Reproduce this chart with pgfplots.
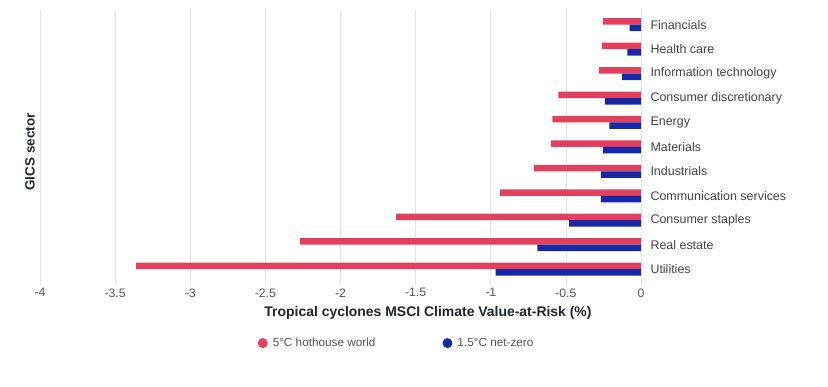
\documentclass[border=0pt]{standalone}
\usepackage{pgfplots}
\pgfplotsset{compat=1.18}
\usepackage{fontspec}
\setmainfont{Liberation Sans}
\definecolor{hot}{HTML}{E2405F}
\definecolor{nz}{HTML}{1428A8}
\definecolor{tickgray}{HTML}{555555}
\definecolor{labeldark}{HTML}{1F2430}
\begin{document}
\begin{tikzpicture}
\path[use as bounding box] (0,0) rectangle (828bp,-387bp);
\begin{axis}[
  at={(40bp,-285bp)}, anchor=south west,
  scale only axis, width=601bp, height=275bp,
  xmin=-4, xmax=0, ymin=-0.6, ymax=10.65,
  y dir=reverse,
  xtick={-4,-3.5,-3,-2.5,-2,-1.5,-1,-0.5,0},
  xticklabels={-4,-3.5,-3,-2.5,-2,-1.5,-1,-0.5,0},
  ytick={0,...,10},
  yticklabels={Financials,Health care,Information technology,Consumer discretionary,Energy,Materials,Industrials,Communication services,Consumer staples,Real estate,Utilities},
  yticklabel pos=right,
  major tick length=0pt,
  axis line style={draw=none},
  xmajorgrids, major grid style={draw=black!10, line width=0.6pt},
  xticklabel style={font=\fontsize{12.3}{14}\selectfont, text=tickgray},
  yticklabel style={font=\fontsize{12.5}{14}\selectfont, text=tickgray!80!black, anchor=west, xshift=6bp},
  legend columns=2,
  legend style={draw=none, fill=none, at={(axis description cs:0.362,-0.211)}, anchor=west,
    font=\fontsize{11.8}{13}\selectfont, text=tickgray, inner sep=0pt,
    nodes={anchor=base west},
    /tikz/every even column/.append style={column sep=65bp}},
  legend image code/.code={\path (0bp,0bp) -- (13bp,0bp); \fill (5bp,0.35em) circle (5bp);},
  legend cell align=left,
]
\addplot[xbar, bar width=6.5bp, bar shift=3.25bp, fill=hot, draw=none] coordinates {
(-0.254,0) (-0.26,1) (-0.28,2) (-0.55,3) (-0.59,4) (-0.60,5) (-0.713,6) (-0.94,7) (-1.63,8) (-2.27,9) (-3.36,10)};
\addlegendentry{5°C hothouse world}
\addplot[xbar, bar width=6.5bp, bar shift=-3.25bp, fill=nz, draw=none] coordinates {
(-0.076,0) (-0.09,1) (-0.125,2) (-0.24,3) (-0.21,4) (-0.254,5) (-0.267,6) (-0.267,7) (-0.479,8) (-0.69,9) (-0.967,10)};
\addlegendentry{1.5°C net-zero}
\end{axis}
\node[font=\bfseries\fontsize{14}{16}\selectfont, text=labeldark] at (428bp,-313bp) {Tropical cyclones MSCI Climate Value-at-Risk (\%)};
\node[font=\bfseries\fontsize{13.5}{15}\selectfont, text=labeldark, rotate=90] at (30bp,-152bp) {GICS sector};
\end{tikzpicture}
\end{document}
